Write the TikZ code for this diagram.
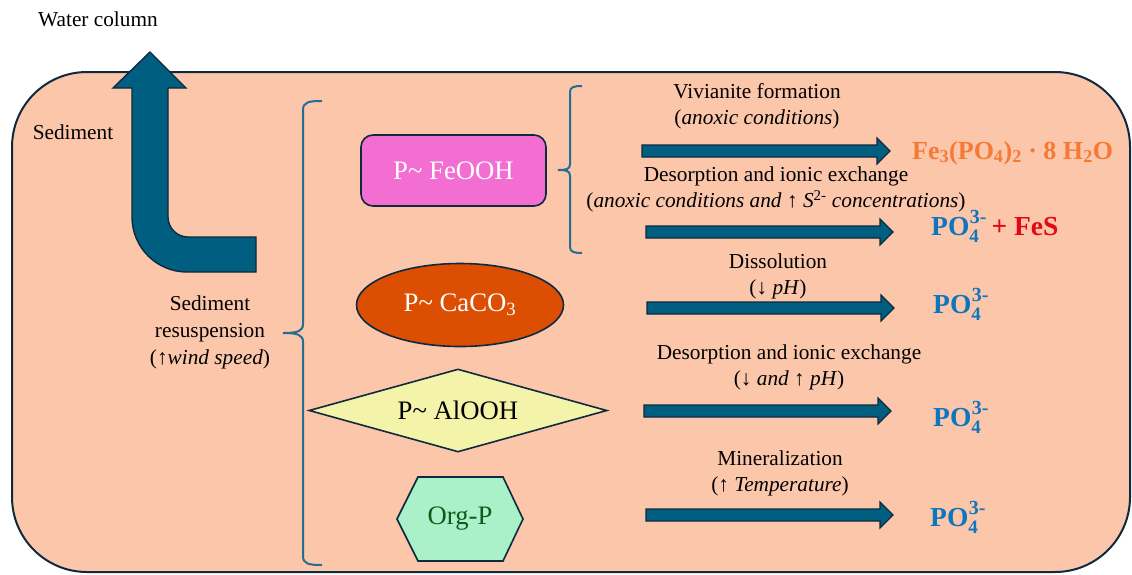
\documentclass[tikz,border=0pt]{standalone}
\usepackage{fontspec}
\setmainfont{Liberation Serif}
\usetikzlibrary{shapes.geometric,calc}
\definecolor{boxfill}{HTML}{FCC6AB}
\definecolor{boxline}{HTML}{0D2A3E}
\definecolor{arrowfill}{HTML}{005E80}
\definecolor{bracecol}{HTML}{236E91}
\definecolor{fepink}{HTML}{F26ED0}
\definecolor{caorange}{HTML}{DC4E02}
\definecolor{alyellow}{HTML}{F3F3A9}
\definecolor{orgmint}{HTML}{AAF0C8}
\definecolor{orggreen}{HTML}{0B5E1A}
\definecolor{vivorange}{HTML}{F47B35}
\definecolor{pblue}{HTML}{0F75BD}
\definecolor{fesred}{HTML}{E30613}
\newcommand\blockarrow[2]{%
  \draw[barrow] ($(#1)+(0,-6)$) -- ($(#2)+(-13,-6)$) -- ($(#2)+(-13,-13)$) -- (#2)
    -- ($(#2)+(-13,13)$) -- ($(#2)+(-13,6)$) -- ($(#1)+(0,6)$) -- cycle;}
\newcommand\pofour{PO\makebox[0pt][l]{\raisebox{-0.27em}{\fontsize{19}{19}\selectfont 4}}\hspace{0.5pt}\raisebox{0.42em}{\fontsize{20}{20}\selectfont 3-}}
\begin{document}
\begin{tikzpicture}[x=1pt,y=-1pt,
  lbl/.style={font=\fontsize{21.3}{26}\selectfont, align=center, inner sep=0pt},
  shapetxt/.style={font=\fontsize{26.7}{32}\selectfont, inner sep=0pt},
  prod/.style={font=\fontsize{26}{31}\selectfont\bfseries, anchor=base west, inner sep=0pt},
  pprod/.style={font=\fontsize{27.5}{31}\selectfont\bfseries, anchor=base west, inner sep=0pt},
  outl/.style={draw=boxline, line width=1.6pt},
  barrow/.style={fill=arrowfill, draw=boxline, line width=1.2pt, line join=miter},
  bracestyle/.style={draw=bracecol, line width=2pt}]
\useasboundingbox (0,0) rectangle (1132,574);
% sediment box
\draw[fill=boxfill, draw=boxline, line width=2pt, rounded corners=75pt] (12,72) rectangle (1130,572);
% resuspension arrow
\draw[barrow, line width=1.4pt] (150,52) -- (186,88) -- (168,88) -- (168,217)
  .. controls (168,228) and (177,237) .. (188,237) -- (256,237) -- (256,272) -- (187,272)
  .. controls (156.6,272) and (132,247.4) .. (132,217) -- (132,88) -- (113,88) -- cycle;
% braces
\draw[bracestyle] (322,101) .. controls (309,101) and (303,102) .. (303,110) -- (303,324)
  .. controls (303,331) and (298,333) .. (283,333) .. controls (298,333) and (303,335) .. (303,342)
  -- (303,556) .. controls (303,564) and (309,565) .. (322,565);
\draw[bracestyle] (582,86) .. controls (574,86) and (570,87) .. (570,92) -- (570,164)
  .. controls (570,169) and (567,170) .. (558,170) .. controls (567,170) and (570,171) .. (570,176)
  -- (570,247) .. controls (570,252) and (574,253) .. (582,253);
% P pools
\node[outl, fill=fepink, rounded corners=12pt, minimum width=185pt, minimum height=71pt, shapetxt, text=white] (fe) at (453.5,170.5) {P\textasciitilde{} FeOOH};
\node[outl, fill=caorange, ellipse, minimum width=207pt, minimum height=83pt, shapetxt, text=white] (ca) at (460,305) {P\textasciitilde{} CaCO\textsubscript{3}};
\node[outl, fill=alyellow, diamond, aspect=3.6, minimum width=298pt, minimum height=83pt, shapetxt] (al) at (458,410.5) {P\textasciitilde{} AlOOH};
\draw[outl, fill=orgmint] (397,519) -- (418,477) -- (503,477) -- (523,519) -- (503,561) -- (418,561) -- cycle;
\node[shapetxt, text=orggreen] (org) at (460,519) {Org-P};
% block arrows
\coordinate (s1) at (642,151); \coordinate (e1) at (890,151);
\coordinate (s2) at (646,232); \coordinate (e2) at (893,232);
\coordinate (s3) at (647,308); \coordinate (e3) at (894,308);
\coordinate (s4) at (644,411); \coordinate (e4) at (891,411);
\coordinate (s5) at (646,515); \coordinate (e5) at (893,515);
\blockarrow{s1}{e1}
\blockarrow{s2}{e2}
\blockarrow{s3}{e3}
\blockarrow{s4}{e4}
\blockarrow{s5}{e5}
% texts
\node[lbl] (water) at (98,19) {Water column};
\node[lbl] (sed) at (73,132) {Sediment};
\node[lbl, font=\fontsize{21.3}{27}\selectfont] (resus) at (210,332) {Sediment\\resuspension\\(↑\textit{wind speed})};
\node[lbl] (l1) at (757,106) {Vivianite formation\\(\textit{anoxic conditions})};
\node[lbl] (l2) at (776,189.5) {Desorption and ionic exchange\\(\textit{anoxic conditions and} ↑ \textit{S}\textsuperscript{2-} \textit{concentrations})};
\node[lbl] (l3) at (778,276) {Dissolution\\(↓ \textit{pH})};
\node[lbl] (l4) at (789,367.5) {Desorption and ionic exchange\\(↓ \textit{and} ↑ \textit{pH})};
\node[lbl] (l5) at (780,473.5) {Mineralization\\(↑ \textit{Temperature})};
% products
\node[prod, text=vivorange] (p1) at (912,159) {Fe\textsubscript{3}(PO\textsubscript{4})\textsubscript{2} · 8 H\textsubscript{2}O};
\node[pprod] (p2) at (931,235) {\textcolor{pblue}{\pofour}\hspace{5pt}\textcolor{fesred}{+ FeS}};
\node[pprod, text=pblue] (p3) at (933,313) {\pofour};
\node[pprod, text=pblue] (p4) at (933,426) {\pofour};
\node[pprod, text=pblue] (p5) at (930,526) {\pofour};
\end{tikzpicture}
\end{document}
